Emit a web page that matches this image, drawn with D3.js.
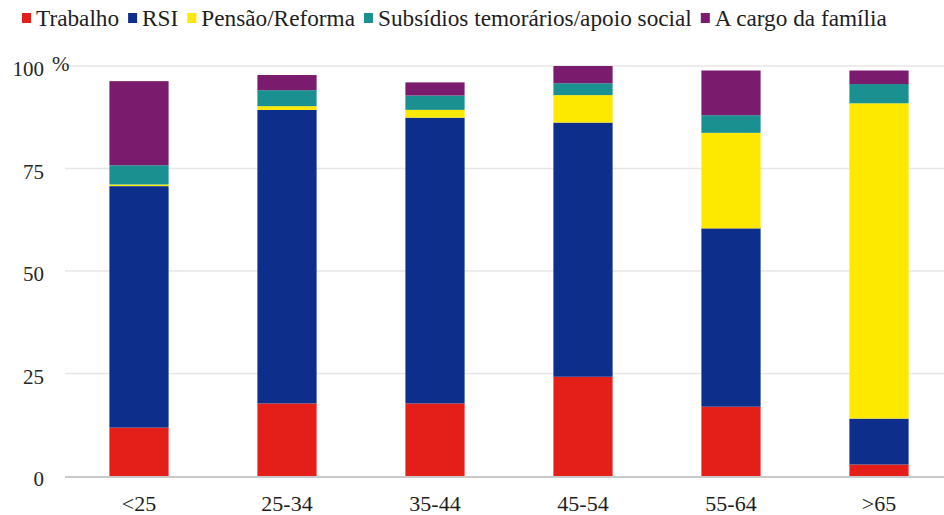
<!DOCTYPE html>
<html><head><meta charset="utf-8">
<script src="https://cdn.jsdelivr.net/npm/d3@7"></script>
<style>body{margin:0;background:#fff}svg{display:block}svg text{font-family:"Liberation Serif","DejaVu Serif Condensed","DejaVu Serif",serif}</style>
</head><body>
<svg id="chart" width="944" height="515"></svg>
<script>
const categories = ["<25","25-34","35-44","45-54","55-64",">65"];
const seriesNames = ["Trabalho","RSI","Pensão/Reforma","Subsídios temorários/apoio social","A cargo da família"];
const trabalho   = [11.8, 17.7, 17.7, 24.2, 16.9, 2.8];
const rsi        = [58.9, 71.6, 69.7, 62.0, 43.5, 11.2];
const pensao     = [0.4, 0.9, 1.9, 6.7, 23.3, 76.9];
const subsidios  = [4.7, 3.9, 3.5, 2.9, 4.3, 4.7];
const familia    = [20.5, 3.7, 3.2, 4.2, 10.9, 3.3];
const yTicks = [0, 25, 50, 75, 100];
const colors = ["#e41f1a","#0e2e8b","#fde800","#1a9190","#7a1b6e"];

const seriesValues = [trabalho, rsi, pensao, subsidios, familia];
const rows = categories.map((c,i)=>{const r={cat:c}; seriesNames.forEach((s,j)=>r[s]=seriesValues[j][i]); return r;});

const svg = d3.select("#chart");
const x = d3.scaleBand().domain(categories).range([65,953]).paddingInner(0.6).paddingOuter(0.3);
const y = d3.scaleLinear().domain([0,100]).range([476,66]);

// gridlines
svg.append("g").selectAll("line").data(yTicks.filter(t=>t>0)).join("line")
  .attr("x1",65).attr("x2",944).attr("y1",d=>y(d)).attr("y2",d=>y(d))
  .attr("stroke","#e6e6e6").attr("stroke-width",1.5);

// y labels
svg.append("g").selectAll("text").data(yTicks).join("text")
  .attr("x",44).attr("y",d=>y(d)+10).attr("text-anchor","end")
  .style("font-size","21px").attr("fill","#262626")
  .text(d=>d);
svg.append("text").attr("x",52).attr("y",y(100)+5)
  .style("font-size","21px").attr("fill","#262626").text("%");

// bars
const stack = d3.stack().keys(seriesNames)(rows);
svg.append("g").selectAll("g").data(stack).join("g")
  .attr("fill",(d,i)=>colors[i])
  .selectAll("rect").data(d=>d).join("rect")
  .attr("x",d=>x(d.data.cat)).attr("width",x.bandwidth())
  .attr("y",d=>y(d[1])).attr("height",d=>y(d[0])-y(d[1]));

// baseline
svg.append("line").attr("x1",65).attr("x2",944).attr("y1",y(0)+1).attr("y2",y(0)+1)
  .attr("stroke","#c9c9c9").attr("stroke-width",2);

// x axis labels
svg.append("g").selectAll("text").data(categories).join("text")
  .attr("x",d=>x(d)+x.bandwidth()/2).attr("y",511).attr("text-anchor","middle")
  .style("font-size","22px").attr("fill","#1e1e1e").text(d=>d);

// legend
const lg = svg.append("g");
let fs = 22;
function drawLegend(fsz){
  lg.selectAll("*").remove();
  let lx = 22;
  seriesNames.forEach((s,i)=>{
    lg.append("rect").attr("x",lx).attr("y",13).attr("width",9).attr("height",10).attr("fill",colors[i]);
    const t = lg.append("text").attr("x",lx+14).attr("y",26)
      .style("font-size",fsz+"px").attr("fill","#1e1e1e").text(s);
    lx += 14 + t.node().getComputedTextLength() + 9;
  });
  return lx - 9;
}
let end = drawLegend(fs);
const textW = end - 22 - 5*14 - 4*9;
fs = fs * (887 - 22 - 5*14 - 4*9) / textW;
drawLegend(fs);
</script>
</body></html>
